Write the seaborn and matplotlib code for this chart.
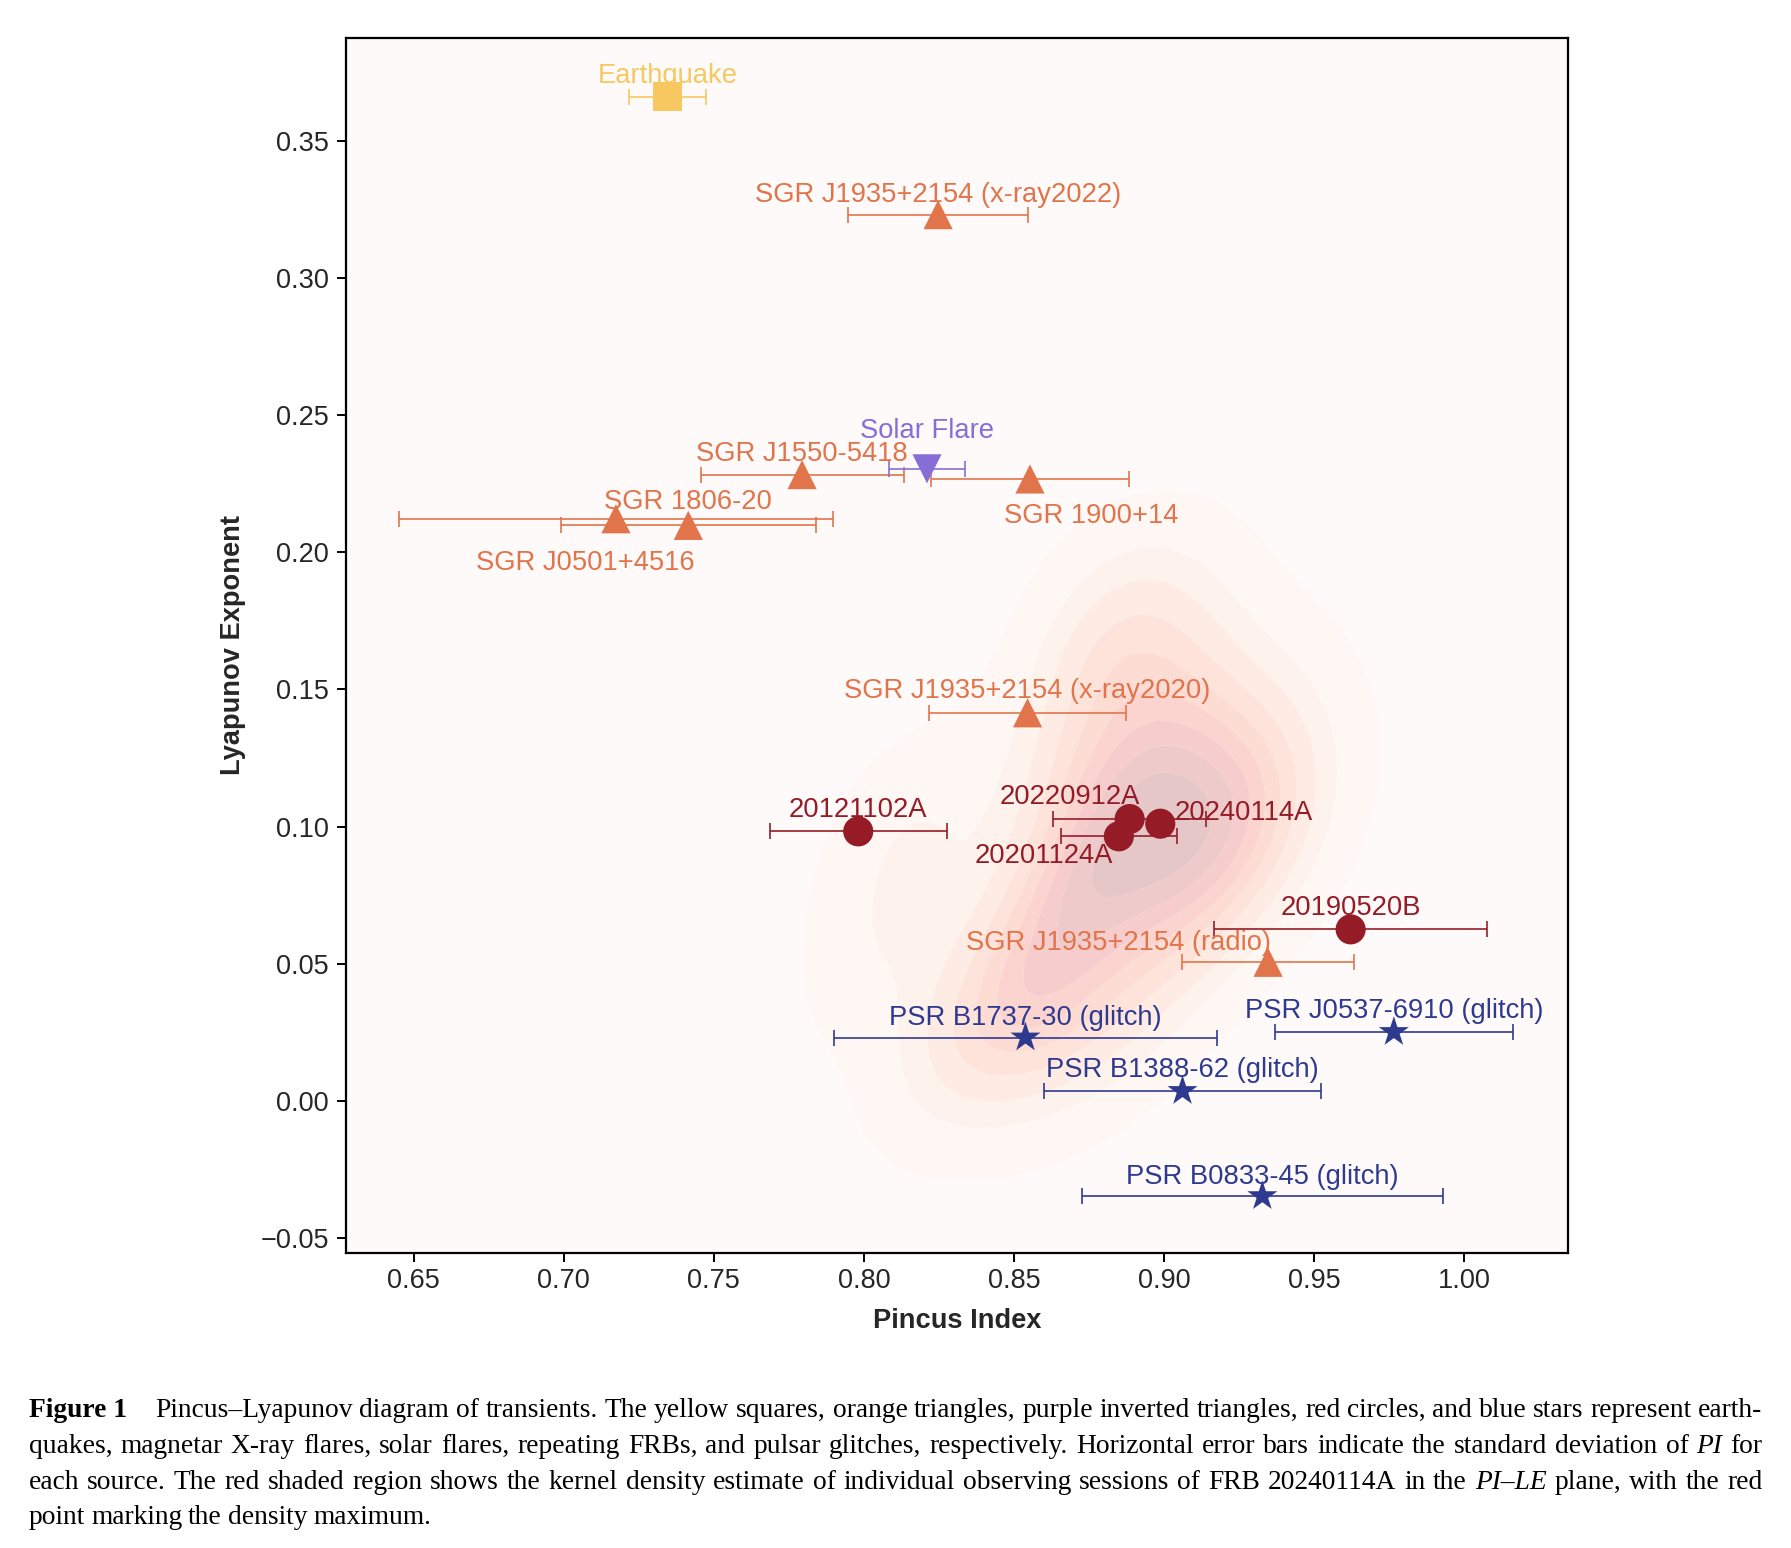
import numpy as np
import pandas as pd
import matplotlib
matplotlib.use('Agg')
import matplotlib.pyplot as plt
from matplotlib.colors import LinearSegmentedColormap, to_rgb
from matplotlib.transforms import IdentityTransform
import seaborn as sns

"""
Values read off the Pincus-Lyapunov figure
"""
names = ['Earthquake', 'SGR J1935+2154 (x-ray2022)', 'SGR J1550-5418', 'Solar Flare', 'SGR 1900+14',
         'SGR J0501+4516', 'SGR 1806-20', 'SGR J1935+2154 (x-ray2020)', '20121102A', '20220912A',
         '20201124A', '20240114A', '20190520B', 'SGR J1935+2154 (radio)', 'PSR B1737-30 (glitch)',
         'PSR J0537-6910 (glitch)', 'PSR B1388-62 (glitch)', 'PSR B0833-45 (glitch)']
kinds = ['quake', 'magnetar', 'magnetar', 'solar', 'magnetar',
         'magnetar', 'magnetar', 'magnetar', 'frb', 'frb',
         'frb', 'frb', 'frb', 'magnetar', 'pulsar',
         'pulsar', 'pulsar', 'pulsar']
pincus = [0.7345, 0.8247, 0.7794, 0.8210, 0.8553,
          0.7174, 0.7415, 0.8545, 0.7981, 0.8885,
          0.8849, 0.8987, 0.9621, 0.9346, 0.8538,
          0.9765, 0.9061, 0.9327]
lyapunov = [0.3660, 0.3230, 0.2283, 0.2304, 0.2267,
            0.2122, 0.2098, 0.1415, 0.0983, 0.1028,
            0.0965, 0.1011, 0.0626, 0.0506, 0.0232,
            0.0252, 0.0037, -0.0346]
pincus_std = [0.0128, 0.0300, 0.0338, 0.0127, 0.0331,
              0.0723, 0.0424, 0.0327, 0.0295, 0.0254,
              0.0192, 0.0, 0.0455, 0.0286, 0.0637,
              0.0396, 0.0460, 0.0600]

# individual observing sessions of FRB 20240114A (for the KDE)
session_pi = [0.899, 0.908, 0.888, 0.914, 0.885, 0.918, 0.902, 0.878, 0.910,
              0.880, 0.868, 0.855, 0.845, 0.870, 0.860,
              0.893, 0.880, 0.898, 0.878, 0.910, 0.868,
              0.938, 0.933, 0.928,
              0.815, 0.810, 0.828,
              0.880, 0.903, 0.852]
session_le = [0.100, 0.090, 0.110, 0.108, 0.092, 0.096, 0.118, 0.104, 0.080,
              0.078, 0.062, 0.048, 0.035, 0.040, 0.075,
              0.140, 0.158, 0.172, 0.178, 0.150, 0.125,
              0.112, 0.085, 0.135,
              0.100, 0.060, 0.022,
              0.025, 0.050, 0.018]

# label placement (offset points from the marker)
label_offsets = [(0, 10), (0, 9), (0, 10), (0, 22), (44, -32),
                 (-22, -37), (0, 11.5), (0, 10.5), (0, 10), (-43, 10.5),
                 (-54, -19), (60, 3), (0, 10.5), (-108, 9), (0, 9),
                 (0, 10), (0, 10), (0, 9)]

colors = {'quake': '#F6C85F', 'magnetar': '#E2744B', 'solar': '#876ED6',
          'frb': '#951C27', 'pulsar': '#2E3990'}
markers = {'quake': 's', 'magnetar': '^', 'solar': 'v', 'frb': 'o', 'pulsar': '*'}
bg = '#FEFAF9'

df = pd.DataFrame({'name': names, 'kind': kinds, 'PI': pincus, 'LE': lyapunov, 'PI_std': pincus_std})
sessions = pd.DataFrame({'PI': session_pi, 'LE': session_le})

sns.set_theme(style='ticks')
plt.rcParams['font.family'] = ['Liberation Sans', 'DejaVu Sans']

fig = plt.figure(figsize=(17.91, 15.48), dpi=100)
ax = fig.add_axes([0.1932, 0.1906, 0.6823, 0.7849])
ax.set_facecolor(bg)

# Reds faded onto the background (no alpha, so no seams between bands)
reds = plt.get_cmap('Reds')
bg_rgb = np.array(to_rgb(bg))
faded = [tuple(bg_rgb * 0.79 + np.array(reds(t)[:3]) * 0.21) for t in np.linspace(0, 1, 64)]
kde_cmap = LinearSegmentedColormap.from_list('faded_reds', faded)

sns.kdeplot(data=sessions, x='PI', y='LE', fill=True, cmap=kde_cmap, levels=10, thresh=0.03,
            bw_adjust=1.05, ax=ax, zorder=0, antialiased=True)

# horizontal error bars
for _, row in df.iterrows():
    if row['PI_std'] > 0:
        ax.errorbar(row['PI'], row['LE'], xerr=row['PI_std'], fmt='none', ecolor=colors[row['kind']],
                    elinewidth=1.4, capsize=6, capthick=1.4, alpha=0.85, zorder=2)

sizes = {'quake': 440, 'magnetar': 440, 'solar': 440, 'frb': 470, 'pulsar': 520}
for k in ['quake', 'magnetar', 'solar', 'frb', 'pulsar']:
    sub = df[df.kind == k]
    sns.scatterplot(data=sub, x='PI', y='LE', marker=markers[k], color=colors[k], s=sizes[k],
                    edgecolor='none', linewidth=0, ax=ax, zorder=3, legend=False)

for (_, row), (dx, dy) in zip(df.iterrows(), label_offsets):
    ax.annotate(row['name'], (row['PI'], row['LE']), xytext=(dx, dy), textcoords='offset points',
                ha='center', va='baseline', color=colors[row['kind']], fontsize=19.7, zorder=4)

ax.set_xlim(0.6275, 1.0345)
ax.set_ylim(-0.0553, 0.3874)
ax.set_xticks(np.arange(0.65, 1.001, 0.05))
ax.set_yticks(np.arange(-0.05, 0.351, 0.05))
ax.set_xlabel('Pincus Index', fontsize=19.6, fontweight='bold', labelpad=10)
ax.set_ylabel('Lyapunov Exponent', fontsize=19.6, fontweight='bold', labelpad=10)
ax.tick_params(labelsize=19.5, direction='out', length=6.5, width=1.4, color='black')
ax.tick_params(axis='x', pad=4.5)
ax.tick_params(axis='y', pad=6)
plt.setp(ax.spines.values(), linewidth=1.6, color='black')

# caption, justified like the journal layout
cap_lines = [
    'Pincus–Lyapunov diagram of transients. The yellow squares, orange triangles, purple inverted triangles, '
    'red circles, and blue stars represent earth-',
    'quakes, magnetar X-ray flares, solar flares, repeating FRBs, and pulsar glitches, respectively. '
    'Horizontal error bars indicate the standard deviation of *PI for',
    'each source. The red shaded region shows the kernel density estimate of individual observing sessions '
    'of FRB 20240114A in the *PI–LE plane, with the red',
    'point marking the density maximum.',
]
cap_base = [131, 95, 59, 24]
x_left, x_right = 28.6, 1762.5
renderer = fig.canvas.get_renderer()

for i, (line, yb) in enumerate(zip(cap_lines, cap_base)):
    tokens = []
    if i == 0:
        tokens.append(('Figure 1', {'fontweight': 'bold'}, 22))
    for w in line.split(' '):
        style = {'fontstyle': 'italic'} if w.startswith('*') else {}
        tokens.append((w.lstrip('*'), style, 0))
    texts = [fig.text(0, yb, w, transform=IdentityTransform(), fontsize=19.8, va='baseline',
                      family=['Liberation Serif', 'DejaVu Serif'], color='black', **st)
             for w, st, _ in tokens]
    widths = [t.get_window_extent(renderer).width for t in texts]
    extra = sum(e for _, _, e in tokens)
    if i < len(cap_lines) - 1:
        gap = (x_right - x_left - sum(widths) - extra) / (len(texts) - 1)
    else:
        gap = 6.0
    x = x_left
    for t, wdt, (_, _, e) in zip(texts, widths, tokens):
        t.set_x(x)
        x += wdt + gap + e

fig.savefig('out.png', dpi=100)
